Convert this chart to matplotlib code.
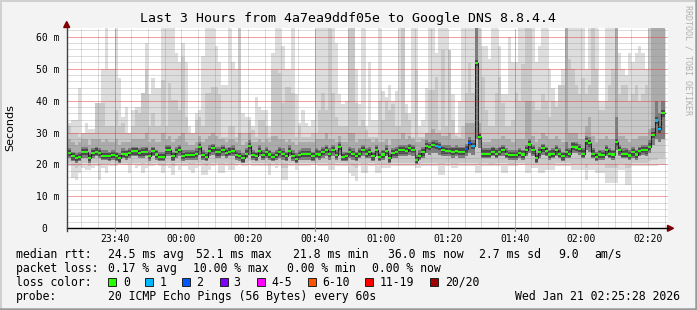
# SmokePing style latency chart: Last 3 Hours from 4a7ea9ddf05e to Google DNS 8.8.4.4

import numpy as np
import matplotlib
matplotlib.use("Agg")
import matplotlib.pyplot as plt
from matplotlib.patches import Rectangle, Polygon
from matplotlib.lines import Line2D

# ==========================================================
# DATA  (one value per 60 s step, ms)
# ==========================================================

FIRST_MINUTE = 26          # minutes after 23:00 of the first step

median = [
    23.5, 22.5, 22.0, 22.3, 23.9, 23.9, 22.0, 23.5, 24.0, 23.5,
    22.7, 22.7, 22.5, 22.9, 22.5, 21.9, 23.3, 23.1, 23.5, 24.1,
    24.1, 23.5, 23.75, 24.0, 22.7, 24.1, 23.1, 22.3, 22.3, 24.4,
    24.4, 22.5, 23.85, 24.6, 22.7, 22.9, 22.9, 22.9, 23.2, 25.4,
    23.0, 22.3, 24.3, 25.0, 23.75,
    23.75, 24.5, 23.5, 24.0, 24.2, 22.9, 22.7, 21.9, 23.4, 25.7,
    22.9, 22.5, 24.2, 22.9, 23.75, 23.1, 22.3, 22.9, 23.85, 23.2,
    22.5, 24.2, 22.7, 21.7, 22.9, 23.3, 23.2, 23.2, 22.5, 23.4,
    23.1, 23.85, 24.5, 23.2, 24.5, 23.0, 25.4, 22.4, 22.5, 23.75,
    23.2, 22.5, 23.4, 24.5, 23.4,
    23.75, 22.5, 24.5, 22.3, 23.1, 24.2, 21.9, 23.5, 23.75, 24.4,
    24.4, 24.2, 25.0, 24.5, 21.3, 22.7, 23.75, 25.7, 25.4, 26.0,
    25.7, 25.4, 24.4, 24.2, 24.2, 24.0, 24.3, 24.0, 24.0, 24.7,
    26.8, 25.8, 51.7, 28.5, 23.4, 23.4, 23.4, 24.0, 23.4, 24.0,
    24.5, 23.3, 23.0, 23.0, 23.0,
    23.5, 23.1, 24.4, 26.25, 24.4, 21.9, 23.75, 25.0, 24.1, 23.1,
    23.4, 24.4, 23.4, 22.5, 23.75, 23.4, 25.6, 25.3, 24.9, 23.4,
    27.2, 26.6, 23.4, 22.3, 23.1, 22.9, 24.4, 23.4, 23.1, 26.9,
    24.4, 23.2, 23.4, 22.8, 23.75, 23.1, 24.1, 24.6, 24.4, 25.6,
    29.2, 33.75, 31.0, 36.0,
]

# steps with lost pings and how many of the 20 were lost
loss_steps = [110, 111, 119, 120, 121, 176, 177]
loss_counts = [1, 1, 2, 2, 1, 1, 1]

# smoke: outer band (min / max ping)
smoke_top1 = [
    33, 34, 34, 44, 30, 33, 31, 31, 39, 39,
    50, 63, 50, 50, 63, 47, 35, 38, 30, 37,
    38, 38, 42, 58, 42, 47, 44, 44, 63, 63,
    63, 63, 55, 52, 58, 52, 32, 30, 36, 37,
    54, 63, 63, 63, 57,
    52, 45, 45, 63, 52, 50, 63, 36, 35, 35,
    32, 41, 38, 37, 37, 32, 55, 63, 63, 57,
    50, 50, 63, 42, 33, 37, 33, 32, 34, 63,
    63, 63, 63, 63, 63, 58, 42, 39, 40, 63,
    63, 50, 39, 63, 32,
    52, 34, 34, 63, 43, 41, 45, 40, 43, 63,
    63, 39, 36, 63, 63, 32, 34, 44, 63, 63,
    55, 63, 63, 63, 46, 42, 30, 40, 63, 63,
    63, 63, 63, 63, 57, 57, 53, 63, 63, 57,
    42, 42, 60, 52, 52,
    63, 63, 63, 63, 63, 52, 57, 63, 63, 50,
    44, 40, 45, 50, 63, 63, 63, 63, 63, 63,
    50, 63, 63, 63, 40, 40, 63, 63, 63, 63,
    55, 50, 48, 55, 52, 55, 57, 55, 50, 63,
    63, 63, 63, 63,
]
smoke_bot1 = [
    19.4, 15.7, 15.2, 17.3, 18.9, 18.3, 18.3, 18.9, 19.4, 15.2,
    18.9, 17.3, 19.4, 19.4, 19.4, 20.0, 19.9, 19.9, 17.3, 19.9,
    18.9, 19.4, 17.3, 18.9, 19.4, 19.4, 19.9, 19.4, 17.3, 19.4,
    18.9, 16.8, 19.4, 18.3, 19.4, 19.4, 18.3, 17.3, 18.9, 19.4,
    16.8, 16.8, 18.3, 19.4, 19.9,
    17.3, 17.3, 19.4, 18.3, 18.3, 19.4, 19.9, 19.4, 19.4, 19.9,
    19.4, 19.4, 19.4, 19.4, 19.4, 16.8, 19.4, 18.9, 19.4, 15.2,
    15.2, 19.4, 19.4, 18.3, 19.4, 19.4, 19.4, 19.4, 19.9, 19.9,
    19.4, 19.4, 19.4, 18.3, 18.3, 19.4, 19.4, 19.4, 19.4, 17.3,
    16.3, 14.7, 19.4, 17.3, 17.3,
    19.4, 19.4, 17.3, 17.3, 18.9, 18.9, 18.9, 19.4, 19.4, 19.4,
    19.4, 19.4, 19.4, 19.4, 18.9, 18.9, 19.4, 19.4, 19.4, 19.4,
    19.4, 16.8, 16.8, 19.4, 19.4, 18.9, 18.9, 19.4, 19.4, 19.4,
    19.4, 19.4, 17.3, 17.3, 19.4, 19.4, 19.4, 19.4, 19.4, 19.4,
    17.3, 17.3, 19.4, 19.4, 19.4,
    19.9, 19.9, 17.3, 17.3, 18.9, 18.9, 17.3, 17.3, 18.3, 18.3,
    18.3, 19.4, 19.4, 19.4, 19.4, 19.4, 18.3, 18.3, 18.3, 18.3,
    15.2, 18.3, 18.3, 17.3, 17.3, 17.3, 14.2, 14.2, 14.2, 14.2,
    18.3, 18.3, 13.6, 13.6, 19.4, 19.4, 19.4, 19.4, 19.4, 19.4,
    19.4, 19.4, 19.9, 19.9,
]

# smoke: second band
smoke_top2 = [
    31.9, 29.8, 29.8, 28.75, 29.8, 29.8, 29.8, 29.8, 39.2, 39.2,
    39.2, 31.9, 31.9, 31.9, 37, 31.9, 32.9, 29.8, 29.8, 31.9,
    37, 36, 42.3, 49.6, 31.9, 36, 31.9, 31.9, 46.5, 31.9,
    45.4, 40.2, 40.2, 37, 53.75, 35, 29.8, 29.8, 34, 35,
    31.9, 42.3, 42.3, 44.4, 44.4,
    42, 28.75, 28.75, 31.9, 31.9, 28.75, 63, 29.8, 29.8, 34,
    30.8, 28.75, 34, 34, 31.9, 28.75, 49.6, 49.6, 48.5, 39.2,
    44.4, 44.4, 42.3, 28.75, 31.9, 28.75, 28.75, 28.75, 29.8, 29.8,
    37, 42.3, 37, 63, 42.3, 35, 31.9, 31.9, 31.9, 63,
    63, 39.2, 31.9, 34, 30.8,
    28.75, 28.75, 28.75, 40, 34, 40, 37, 39, 31.9, 31.9,
    63, 36, 34, 28.75, 49.6, 28.75, 28.75, 28.75, 43.2, 43.2,
    47.4, 30.8, 55.8, 31.9, 55.8, 34, 29, 28.75, 31.9, 42.3,
    51.7, 42.3, 63, 63, 47.4, 37, 31.9, 31.9, 42.3, 47.4,
    39.2, 31.9, 31.9, 34, 42.3,
    40, 51.6, 63, 63, 40, 37, 37, 42, 40, 35,
    40, 38, 45, 45, 63, 53, 50, 45, 42, 47,
    42, 45, 63, 50, 37, 37, 40, 45, 50, 63,
    42, 45, 45, 40, 42, 45, 40, 42, 45, 63,
    63, 63, 63, 63,
]
smoke_bot2 = [
    20.5, 19.5, 19.0, 19.5, 20.5, 20.5, 19.5, 20.5, 20.5, 19.5,
    20.0, 20.0, 20.0, 20.5, 20.0, 20.0, 20.5, 20.5, 20.0, 20.5,
    20.5, 20.5, 20.0, 20.5, 20.0, 20.5, 20.5, 20.0, 19.5, 20.5,
    20.5, 19.5, 20.5, 20.5, 20.5, 20.5, 20.0, 20.0, 20.5, 20.5,
    20.0, 19.5, 20.0, 20.5, 20.5,
    20.0, 20.0, 20.5, 20.0, 20.0, 20.5, 20.5, 20.5, 20.5, 21.0,
    20.5, 20.5, 20.5, 20.5, 20.5, 19.5, 20.5, 20.0, 20.5, 19.0,
    19.0, 20.5, 20.5, 20.0, 20.5, 20.5, 20.5, 20.5, 20.5, 20.5,
    20.5, 20.5, 20.5, 20.0, 20.0, 20.5, 20.5, 20.5, 20.5, 20.0,
    19.5, 19.0, 20.5, 20.0, 20.0,
    20.5, 20.5, 20.0, 20.0, 20.0, 20.0, 20.0, 20.5, 20.5, 20.5,
    20.5, 20.5, 20.5, 20.5, 20.0, 20.0, 20.5, 20.5, 20.5, 20.5,
    20.5, 20.0, 20.0, 20.5, 20.5, 20.0, 20.0, 20.5, 20.5, 20.5,
    20.5, 20.5, 20.5, 20.0, 20.5, 20.5, 20.0, 20.0, 20.5, 20.5,
    20.5, 20.5, 20.0, 20.0, 20.5,
    20.5, 20.5, 20.0, 20.0, 20.0, 20.0, 20.0, 20.0, 20.0, 20.0,
    20.0, 20.5, 20.5, 20.5, 20.5, 20.5, 20.0, 20.0, 20.0, 20.0,
    19.0, 20.0, 20.0, 20.0, 20.0, 20.0, 19.0, 19.0, 19.0, 19.0,
    20.0, 20.0, 19.0, 19.0, 20.5, 20.5, 20.5, 20.5, 20.5, 21.0,
    21.5, 21.5, 22.0, 22.0,
]

# smoke: darker band above the core
smoke_top3 = [
    28, 27, 26, 27, 28, 28, 26, 28, 28, 28,
    27, 28, 27, 27, 28, 26, 27, 27, 27, 28,
    28, 28, 28, 30, 27, 28, 27, 27, 30, 28,
    29, 27, 28, 29, 30, 27, 26, 26, 27, 29,
    27, 28, 29, 30, 29,
    28, 28, 27, 28, 28, 27, 30, 26, 27, 30,
    27, 27, 28, 27, 28, 27, 29, 29, 28, 28,
    27, 28, 27, 26, 27, 27, 27, 27, 27, 28,
    28, 28, 30, 28, 28, 27, 29, 27, 27, 30,
    30, 27, 28, 28, 28,
    28, 27, 28, 27, 27, 28, 26, 28, 28, 28,
    30, 28, 29, 28, 27, 27, 28, 30, 30, 31,
    30, 30, 29, 29, 30, 28, 28, 28, 28, 33,
    33, 33, 63, 33, 27, 27, 27, 28, 28, 28,
    29, 28, 28, 27, 28,
    28, 28, 40, 40, 29, 27, 28, 30, 29, 28,
    28, 29, 28, 27, 63, 30, 30, 30, 28, 28,
    32, 35, 29, 27, 28, 28, 29, 28, 28, 63,
    29, 29, 28, 27, 28, 28, 29, 29, 29, 31,
    63, 63, 63, 63,
]

# smoke: dark core around the median
core_hi = [
    25.0, 24.0, 23.5, 24.0, 25.5, 25.5, 23.5, 25.0, 25.5, 25.0,
    24.5, 24.5, 24.0, 24.5, 24.0, 23.5, 25.0, 24.5, 25.0, 25.5,
    25.5, 25.0, 25.5, 25.5, 24.5, 25.5, 24.5, 24.0, 24.0, 26.0,
    26.0, 24.0, 25.5, 26.0, 24.5, 24.5, 24.5, 24.5, 25.0, 27.0,
    24.5, 24.0, 26.0, 26.5, 25.5,
    25.5, 26.0, 25.0, 25.5, 26.0, 24.5, 24.5, 23.5, 25.0, 27.5,
    24.5, 24.0, 26.0, 24.5, 25.5, 24.5, 24.0, 24.5, 25.5, 25.0,
    24.0, 26.0, 24.5, 23.5, 24.5, 25.0, 25.0, 25.0, 24.0, 25.0,
    24.5, 25.5, 26.0, 25.0, 26.0, 24.5, 27.0, 24.0, 24.0, 25.5,
    25.0, 24.0, 25.0, 26.0, 25.0,
    25.5, 24.0, 26.0, 24.0, 24.5, 26.0, 23.5, 25.0, 25.5, 26.0,
    26.0, 26.0, 26.5, 26.0, 23.0, 24.5, 25.5, 27.5, 27.0, 27.5,
    27.5, 27.0, 26.0, 26.0, 26.0, 25.5, 26.0, 25.5, 25.5, 26.5,
    28.5, 27.5, 63.0, 30.0, 25.0, 25.0, 25.0, 25.5, 25.0, 25.5,
    26.0, 25.0, 24.5, 24.5, 24.5,
    25.0, 24.5, 26.0, 28.0, 26.0, 23.5, 25.5, 26.5, 25.5, 24.5,
    25.0, 26.0, 25.0, 24.0, 27.0, 25.0, 27.0, 27.0, 26.5, 25.0,
    29.0, 28.5, 25.0, 24.0, 24.5, 24.5, 26.0, 25.0, 24.5, 35.0,
    26.0, 25.0, 25.0, 24.5, 25.5, 24.5, 25.5, 26.0, 26.0, 27.5,
    31.5, 40.0, 36.0, 40.0,
]
core_lo = [
    22.0, 21.0, 20.5, 21.0, 22.0, 22.0, 20.5, 22.0, 22.5, 22.0,
    21.5, 21.5, 21.0, 21.5, 21.0, 20.5, 22.0, 21.5, 22.0, 22.5,
    22.5, 22.0, 22.0, 22.5, 21.0, 22.5, 21.5, 21.0, 21.0, 22.5,
    22.5, 21.0, 22.0, 22.5, 21.0, 21.5, 21.5, 21.5, 21.5, 23.0,
    21.5, 21.0, 22.5, 23.0, 22.0,
    22.0, 22.5, 22.0, 22.5, 22.5, 21.5, 21.0, 20.5, 22.0, 23.0,
    21.5, 21.0, 22.5, 21.5, 22.0, 21.5, 21.0, 21.5, 22.0, 21.5,
    21.0, 22.5, 21.0, 20.5, 21.5, 21.5, 21.5, 21.5, 21.0, 22.0,
    21.5, 22.0, 22.5, 21.5, 22.5, 21.5, 23.0, 21.0, 21.0, 22.0,
    21.5, 21.0, 22.0, 22.5, 22.0,
    22.0, 21.0, 22.5, 21.0, 21.5, 22.5, 20.5, 22.0, 22.0, 22.5,
    22.5, 22.5, 23.0, 22.5, 20.0, 21.5, 22.0, 23.5, 23.0, 23.5,
    23.5, 23.0, 22.5, 22.5, 22.5, 22.0, 22.5, 22.0, 22.0, 22.5,
    23.5, 23.0, 28.0, 25.0, 22.0, 22.0, 22.0, 22.5, 22.0, 22.5,
    22.5, 22.0, 21.5, 21.5, 21.5,
    22.0, 21.5, 22.5, 23.5, 22.5, 20.5, 22.0, 23.0, 22.5, 21.5,
    22.0, 22.5, 22.0, 21.0, 22.0, 22.0, 23.5, 23.5, 23.0, 22.0,
    24.5, 24.0, 22.0, 21.0, 21.5, 21.5, 22.5, 22.0, 21.5, 24.5,
    22.5, 22.0, 22.0, 21.5, 22.0, 21.5, 22.5, 23.0, 22.5, 23.5,
    26.0, 28.0, 27.0, 28.0,
]

# x axis labels (minutes after 23:00)
tick_minutes = [40, 60, 80, 100, 120, 140, 160, 180, 200]
tick_labels = ["23:40", "00:00", "00:20", "00:40", "01:00",
               "01:20", "01:40", "02:00", "02:20"]
y_ticks = [0, 10, 20, 30, 40, 50, 60]
y_labels = ["0  ", "10 m", "20 m", "30 m", "40 m", "50 m", "60 m"]

loss_labels = ["0", "1", "2", "3", "4-5", "6-10", "11-19", "20/20"]
loss_colors = ["#26ff00", "#00b8ff", "#0059ff", "#7e00ff",
               "#ff00ff", "#ff5500", "#ff0000", "#a10000"]

# ==========================================================
# FIGURE LAYOUT (pixel helpers)
# ==========================================================

W, H = 697, 310
MONO = "DejaVu Sans Mono"


def fx(x):
    return x / W


def fy(y):
    return 1 - y / H


fig = plt.figure(figsize=(W / 100, H / 100), dpi=100, facecolor="#f3f3f3")

X0, X1 = 66.7, 667.5
Y0, Y1 = 228.3, 27.7
ax = fig.add_axes([fx(X0), fy(Y0), (X1 - X0) / W, (Y0 - Y1) / H])
ax.set_facecolor("white")
ax.set_xlim(25.6, 25.6 + (X1 - X0) / 3.3333)
ax.set_ylim(0, (Y0 - Y1) / 3.193)

n = len(median)
edges = np.arange(n + 1) + FIRST_MINUTE


def band(lo, hi, color, z):
    lo = np.append(lo, lo[-1])
    hi = np.append(hi, hi[-1])
    ax.fill_between(edges, lo, hi, step="post", color=color, lw=0, zorder=z)


# ==========================================================
# SMOKE + MEDIAN
# ==========================================================

band(smoke_bot1, smoke_top1, "#dddddd", 1)
band(smoke_bot2, smoke_top2, "#c8c8c8", 2)
band(core_lo, smoke_top3, "#ababab", 3)
band(core_lo, core_hi, "#7c7c7c", 4)

med = np.array(median)
# darkest smoke right around the median
ax.bar(edges[:-1], 2.0, bottom=med - 1.0, width=1, align="edge",
       color="#4a4a4a", lw=0, zorder=4.5)
ax.step(edges, np.append(med, med[-1]), where="post",
        color="#202020", lw=0.75, zorder=5)

loss = np.zeros(n, dtype=int)
loss[loss_steps] = loss_counts
bar_colors = [loss_colors[min(v, 3)] if v < 4 else loss_colors[4] for v in loss]
ax.bar(edges[:-1], 0.65, bottom=med - 0.32, width=1, align="edge",
       color=bar_colors, lw=0, zorder=6)

# ==========================================================
# GRID
# ==========================================================

xmax = ax.get_xlim()[1]
for t in np.arange(30, xmax, 5):
    major = (t - 40) % 60 == 0
    ax.axvline(t, color="#e03030" if major else "#8c8c8c",
               alpha=0.45 if major else 0.3, lw=0.72, antialiased=False,
               ls=(0, (1, 1)), zorder=7)
for v in np.arange(2, 63, 2):
    major = v % 10 == 0
    ax.axhline(v, color="#e03030" if major else "#8c8c8c",
               alpha=0.45 if major else 0.3, lw=0.72, antialiased=False,
               ls=(0, (1, 1)), zorder=7)

for s in ax.spines.values():
    s.set_visible(False)

ax.set_xticks(tick_minutes)
ax.set_xticklabels(tick_labels, fontfamily=MONO, fontsize=7)
ax.set_yticks(y_ticks)
ax.set_yticklabels(y_labels, fontfamily=MONO, fontsize=7)
ax.tick_params(axis="x", length=0, pad=4)
ax.tick_params(axis="y", length=0, pad=5)

# axis lines and arrows
fig.add_artist(Line2D([fx(X0), fx(X1)], [fy(Y0), fy(Y0)], color="black", lw=1.0))
fig.add_artist(Line2D([fx(X0), fx(X0)], [fy(Y0 + 3), fy(Y1)], color="#404040", lw=1.0))
arrow_c = "#7f0000"
fig.add_artist(Polygon([(fx(63.7), fy(27.5)), (fx(69.7), fy(27.5)), (fx(66.7), fy(21.5))],
                       closed=True, color=arrow_c, transform=fig.transFigure))
fig.add_artist(Polygon([(fx(667.5), fy(225.3)), (fx(667.5), fy(231.3)), (fx(673.5), fy(228.3))],
                       closed=True, color=arrow_c, transform=fig.transFigure))
for t in [40, 100, 160]:
    xp = X0 + (t - 25.6) * 3.3333
    fig.add_artist(Line2D([fx(xp), fx(xp)], [fy(Y0), fy(Y0 + 3)], color="#e07070", lw=0.8))

# ==========================================================
# TEXTS
# ==========================================================

fig.text(0.5, fy(18.5), "Last 3 Hours from 4a7ea9ddf05e to Google DNS 8.8.4.4",
         ha="center", va="center", fontfamily=MONO, fontsize=9.5)
fig.text(fx(10), fy(127.5), "Seconds", rotation=90, ha="center", va="center",
         fontfamily="DejaVu Sans", fontsize=8)
fig.text(fx(688), fy(60), "RRDTOOL / TOBI OETIKER", rotation=270, ha="center",
         va="center", fontfamily=MONO, fontsize=6, color="#b0b0b0")

LEG = 8.3
rows = [
    (254.3, [(16, "median rtt:"), (107.6, "24.5 ms avg"), (196, "52.1 ms max"),
             (293.3, "21.8 ms min"), (387.6, "36.0 ms now"), (479, "2.7 ms sd"),
             (557.8, "9.0"), (594.7, "am/s")]),
    (268.3, [(16, "packet loss:"), (107.6, "0.17 % avg"), (193.3, "10.00 % max"),
             (286.7, "0.00 % min"), (372, "0.00 % now")]),
    (282.3, [(16, "loss color:")]),
    (296.3, [(16, "probe:"), (107.6, "20 ICMP Echo Pings (56 Bytes) every 60s")]),
]
for y, items in rows:
    for x, s in items:
        fig.text(fx(x), fy(y), s, ha="left", va="center", fontfamily=MONO, fontsize=LEG)
fig.text(fx(680), fy(296.3), "Wed Jan 21 02:25:28 2026", ha="right", va="center",
         fontfamily=MONO, fontsize=LEG)

box_x = [108.4, 145.3, 182.2, 219.6, 256.9, 307.6, 365.3, 430.2]
lab_x = [123, 160, 196.4, 233.3, 271, 322, 380, 445.3]
for bx, lx, lab, col in zip(box_x, lab_x, loss_labels, loss_colors):
    fig.add_artist(Rectangle((fx(bx), fy(285.5)), 8 / W, 8 / H, facecolor=col,
                             edgecolor="#202020", lw=0.7, transform=fig.transFigure))
    fig.text(fx(lx), fy(282.3), lab, ha="left", va="center", fontfamily=MONO, fontsize=LEG)

# frame shading
fig.add_artist(Line2D([0, 1], [fy(0.5), fy(0.5)], color="#d0d0d0", lw=1.4))
fig.add_artist(Line2D([fx(0.5), fx(0.5)], [0, 1], color="#d0d0d0", lw=1.4))
fig.add_artist(Line2D([0, 1], [fy(309), fy(309)], color="#9a9a9a", lw=1.8))
fig.add_artist(Line2D([fx(696), fx(696)], [0, 1], color="#9a9a9a", lw=1.8))

fig.savefig("out.png", dpi=100, facecolor=fig.get_facecolor())
